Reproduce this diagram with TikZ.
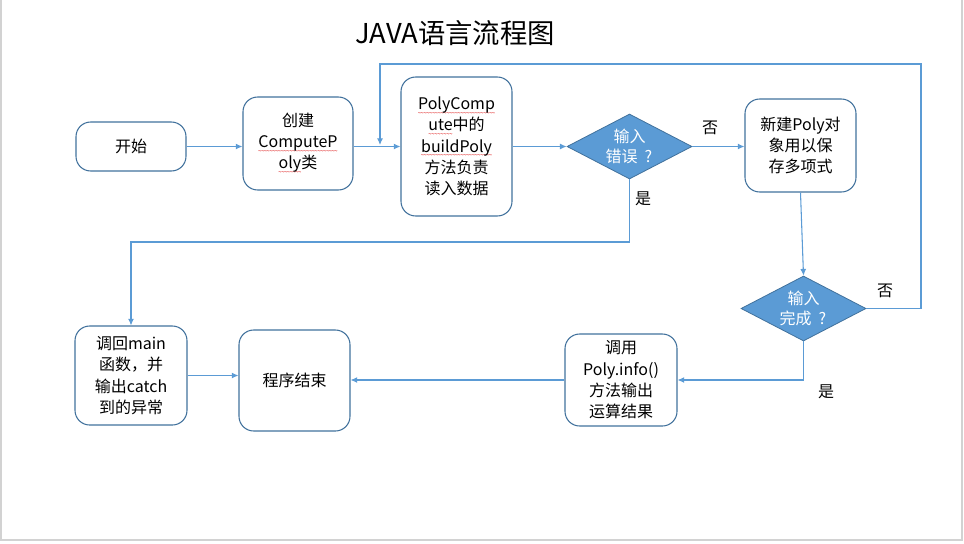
\documentclass[tikz,border=0pt]{standalone}
\usepackage{fontspec}
\setmainfont{Noto Sans CJK SC}
\usetikzlibrary{shapes.geometric,arrows.meta}
\newcommand\redwave[1]{\setbox0\hbox{#1}\rlap{\raisebox{-4.3pt}{\hbox to \wd0{\color{red!85!black}\fontsize{4.5pt}{5pt}\selectfont\xleaders\hbox{\kern-0.2pt\char"7E\kern-0.2pt}\hfill}}}\box0}
\newcommand\fwq{\hspace{0.45em}\makebox[0.55em][l]{?}}
\definecolor{lineblue}{HTML}{5B9BD5}
\definecolor{edgeblue}{HTML}{41719C}
\begin{document}
\begin{tikzpicture}[x=0.75pt,y=-0.75pt,
  box/.style={draw=edgeblue,line width=0.8pt,rounded corners=11pt,rectangle,align=center,font=\fontsize{12pt}{16pt}\selectfont,inner sep=0pt},
  dec/.style={draw=edgeblue,fill=lineblue,diamond,line width=0.6pt,inner sep=0pt,minimum width=93.75pt,minimum height=48.75pt},
  dtext/.style={text=white,align=center,font=\fontsize{12pt}{15pt}\selectfont},
  conn/.style={draw=lineblue,line width=0.8pt,-{Latex[length=5pt,width=4.5pt]}},
  lbl/.style={font=\fontsize{12pt}{14pt}\selectfont}]
\useasboundingbox (0,0) rectangle (964,543);
\draw[gray!35,line width=1.5pt] (1,0) -- (1,540) -- (962,540) -- (962,0);
\node[font=\fontsize{20.5pt}{22pt}\selectfont] (title) at (455,33) {JAVA语言流程图};
\node[box,minimum width=82.5pt,minimum height=36.75pt] (start) at (131,146.5) {开始};
\node[box,minimum width=82.5pt,minimum height=69.75pt] (create) at (298,143.5) {创建\\\redwave{ComputeP}\\\redwave{oly}类};
\node[box,minimum width=83.25pt,minimum height=104.25pt] (build) at (456.5,146.5) {\redwave{PolyComp}\\\redwave{ute}中的\\\redwave{buildPoly}\\方法负责\\读入数据};
\node[dec] (d1) at (629.5,146.5) {};
\node[dtext] (d1t) at (d1) {输入\\错误\fwq};
\node[box,minimum width=83.25pt,minimum height=69.75pt] (newpoly) at (800.5,145.5) {新建Poly对\\象用以保\\存多项式};
\node[dec] (d2) at (803.5,308.5) {};
\node[dtext] (d2t) at (d2) {输入\\完成\fwq};
\node[box,minimum width=84pt,minimum height=69pt] (info) at (621,380) {调用\\Poly.info()\\方法输出\\运算结果};
\node[box,minimum width=83.25pt,minimum height=75.75pt] (end) at (294.5,380.5) {程序结束};
\node[box,minimum width=84pt,minimum height=74.25pt] (catch) at (131,375.5) {调回main\\函数，并\\输出catch\\到的异常};
\coordinate (loopx) at (921,64);
\coordinate (merge) at (380,145);
\coordinate (errdown) at (629.5,242);
\draw[conn] (start.east) -- (start.east -| create.west);
\draw[conn] (create.east |- build) -- (build.west);
\draw[conn] (d2.east) -| (loopx) -| (merge);
\draw[conn] (build.east) -- (d1.west);
\draw[conn] (d1.east) -- (newpoly.west |- d1);
\draw[conn] (d1.south) -- (errdown) -| (catch.north);
\draw[conn] (newpoly.south) -- (d2.north);
\draw[conn] (d2.south) |- (info.east);
\draw[conn] (info.west) -- (end.east |- info);
\draw[conn] (catch.east) -- (end.west |- catch);
\node[lbl] (l1) at (710,128) {否};
\node[lbl] (l2) at (643,199) {是};
\node[lbl] (l3) at (885,291) {否};
\node[lbl] (l4) at (826,392) {是};
\end{tikzpicture}
\end{document}
